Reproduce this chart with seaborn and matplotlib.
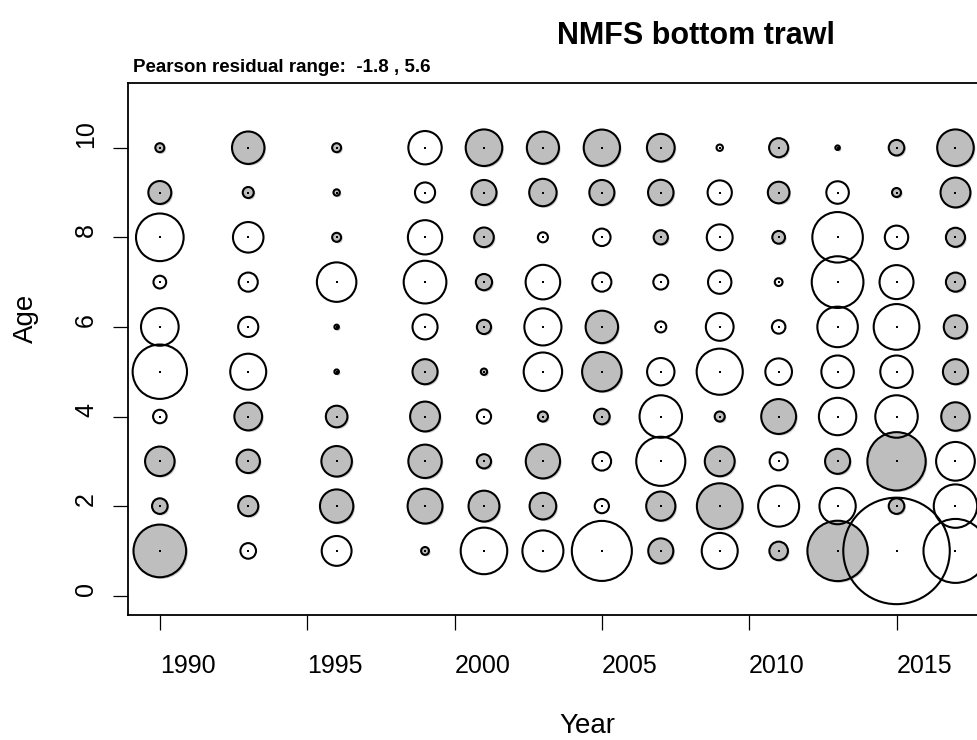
import numpy as np
import pandas as pd
import seaborn as sns
import matplotlib
matplotlib.use("Agg")
import matplotlib.pyplot as plt
from matplotlib.transforms import ScaledTranslation

# Survey years and ages
years = [1990, 1993, 1996, 1999, 2001, 2003, 2005, 2007, 2009, 2011, 2013, 2015, 2017]
ages = [1, 2, 3, 4, 5, 6, 7, 8, 9, 10]

# Pearson residuals by age (one value per survey year)
age1 = [-1.37, 0.12, 0.44, -0.03, 1.07, 0.83, 1.78, -0.31, 0.64, -0.17, -1.80, 5.60, 2.02]
age2 = [-0.12, -0.20, -0.55, -0.60, -0.47, -0.35, 0.10, -0.42, -1.03, 0.83, 0.65, -0.12, 0.93]
age3 = [-0.43, -0.27, -0.46, -0.55, -0.10, -0.58, 0.17, 1.19, -0.44, 0.16, -0.31, -1.68, 0.74]
age4 = [0.09, -0.38, -0.23, -0.44, 0.10, -0.05, -0.12, 0.89, -0.05, -0.60, 0.69, 0.89, -0.40]
age5 = [1.46, 0.64, -0.01, -0.31, -0.02, 0.73, -0.77, 0.37, 1.05, 0.35, 0.52, 0.52, -0.31]
age6 = [0.70, 0.20, -0.01, 0.31, -0.10, 0.68, -0.52, 0.06, 0.38, 0.09, 0.81, 1.03, -0.27]
age7 = [0.08, 0.18, 0.77, 0.90, -0.13, 0.59, 0.18, 0.11, 0.27, 0.03, 1.32, 0.57, -0.18]
age8 = [1.12, 0.46, -0.04, 0.58, -0.19, 0.05, 0.15, -0.10, 0.33, -0.08, 1.26, 0.27, -0.18]
age9 = [-0.26, -0.06, -0.02, 0.20, -0.31, -0.37, -0.31, -0.32, 0.29, -0.23, 0.25, -0.04, -0.44]
age10 = [-0.04, -0.52, -0.04, 0.55, -0.66, -0.51, -0.65, -0.38, 0.02, -0.18, -0.01, -0.12, -0.66]

x_ticks = [1990, 1995, 2000, 2005, 2010, 2015]
y_ticks = [0, 2, 4, 6, 8, 10]

title = "NMFS bottom trawl"
x_label = "Year"
y_label = "Age"

# ---- long table, ordered by year so later years draw on top ----
by_age = [age1, age2, age3, age4, age5, age6, age7, age8, age9, age10]
rows = []
for j, yr in enumerate(years):
    for a, vals in zip(ages, by_age):
        rows.append((yr, a, vals[j]))
df = pd.DataFrame(rows, columns=["year", "age", "resid"])
df["mag"] = df["resid"].abs()
rmin, rmax = df["resid"].min(), df["resid"].max()

sns.set_style("white")
plt.rcParams["font.family"] = ["Liberation Sans", "DejaVu Sans"]
plt.rcParams.update({
    "axes.edgecolor": "black",
    "text.color": "black",
    "axes.labelcolor": "black",
    "xtick.color": "black",
    "ytick.color": "black",
})

W, H = 977, 740
fig = plt.figure(figsize=(W / 100, H / 100), dpi=100)

# plot region in pixels (the right side runs past the canvas edge)
left_px, top_px = 128, 83.2
xlim = (1988.92, 2018.08)
ylim = (-0.44, 11.44)
px_per_year = 29.468
px_per_age = 44.8
w_px = (xlim[1] - xlim[0]) * px_per_year
h_px = (ylim[1] - ylim[0]) * px_per_age
ax = fig.add_axes([left_px / W, 1 - (top_px + h_px) / H, w_px / W, h_px / H])
ax.set_xlim(*xlim)
ax.set_ylim(*ylim)

# bubble area proportional to |residual|
px_to_pt = 0.72
r_max_px = 22.5 * np.sqrt(rmax)
s_max = (2 * r_max_px * px_to_pt) ** 2

neg = df[df["resid"] < 0]
# soft shadow under the filled (negative) bubbles
sns.scatterplot(data=neg, x="year", y="age", size="mag", sizes=(0, s_max),
                size_norm=(0, rmax), legend=False, ax=ax, color="#c9c9c9",
                linewidth=0, zorder=1)
shadow = ax.collections[-1]
shadow.set_offset_transform(ax.transData + ScaledTranslation(1.6 / 100, -1.6 / 100, fig.dpi_scale_trans))

sns.scatterplot(data=df, x="year", y="age", size="mag", sizes=(0, s_max),
                size_norm=(0, rmax), legend=False, ax=ax, color="#BEBEBE",
                edgecolor="black", linewidth=1.5, zorder=2)
bubbles = ax.collections[-1]
bubbles.set_facecolors(["#BEBEBE" if r < 0 else "none" for r in df["resid"]])
bubbles.set_edgecolors("black")

# centre points
sns.scatterplot(data=df, x="year", y="age", marker="s", s=2.2, color="black",
                linewidth=0, legend=False, ax=ax, zorder=3)

ax.set_xlabel("")
ax.set_ylabel("")
ax.set_xticks(x_ticks)
ax.set_yticks(y_ticks)
ax.set_xticklabels([str(v) for v in x_ticks])
ax.set_yticklabels([str(v) for v in y_ticks])
for sp in ax.spines.values():
    sp.set_linewidth(1.3)
    sp.set_color("black")
ax.tick_params(axis="both", direction="out", length=10.5, width=0.9, color="black",
               labelsize=18, labelcolor="black", bottom=True, left=True,
               top=False, right=False)
ax.tick_params(axis="x", pad=17)
ax.tick_params(axis="y", pad=11)
plt.setp(ax.get_xticklabels(), ha="left")
plt.setp(ax.get_yticklabels(), rotation=90, va="bottom", ha="right")

# titles and axis labels
fig.text(557 / W, 1 - 44 / H, title, fontsize=22, fontweight="bold",
         ha="left", va="baseline", color="black")
fig.text(133 / W, 1 - 72 / H, f"Pearson residual range:  {rmin:.1f} , {rmax:.1f}",
         fontsize=13.5, fontweight="bold", ha="left", va="baseline", color="black")
fig.text(559 / W, 1 - 733 / H, x_label, fontsize=20, ha="left", va="baseline",
         color="black")
fig.text(33 / W, 1 - 343 / H, y_label, fontsize=20, rotation=90,
         rotation_mode="anchor", ha="left", va="baseline", color="black")

fig.savefig("out.png", dpi=100, facecolor="white")
